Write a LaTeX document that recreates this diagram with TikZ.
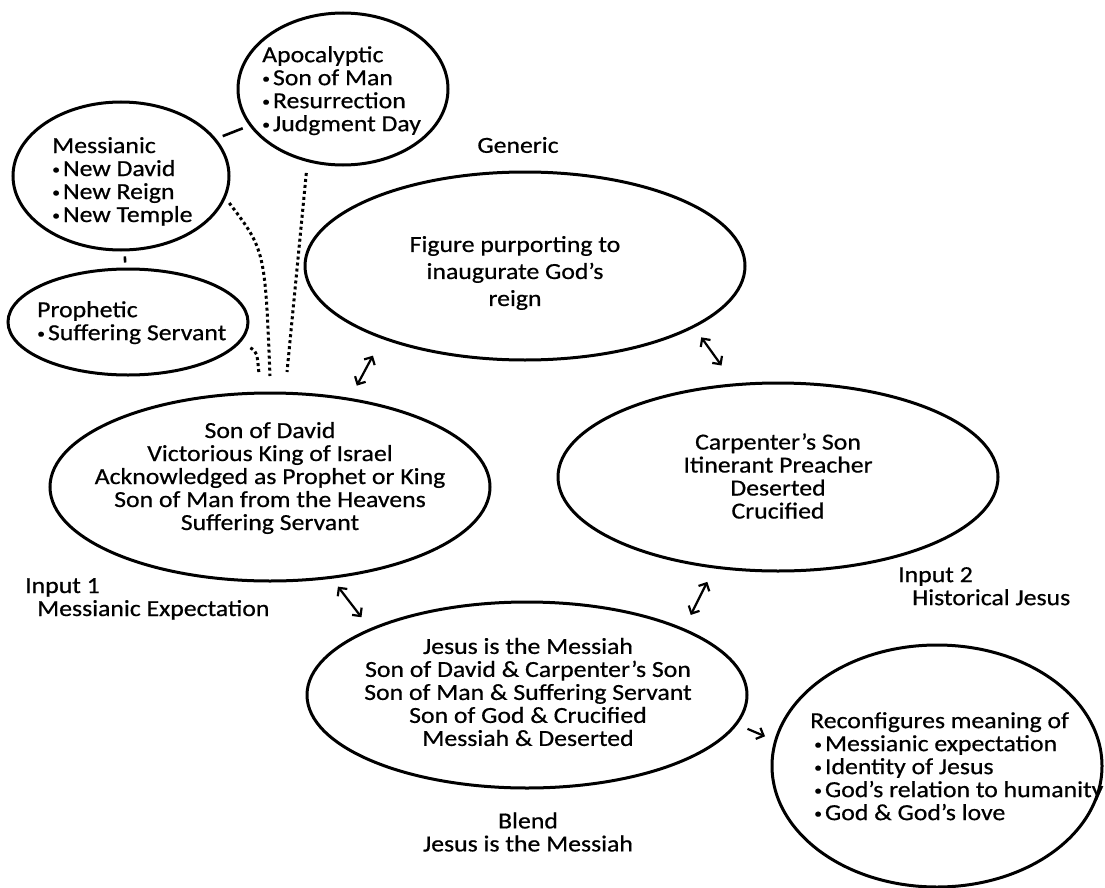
\documentclass[tikz,border=0pt]{standalone}
\usepackage{fontspec}
\setmainfont{Carlito}[FakeStretch=1.12,FakeBold=0.6]
\usetikzlibrary{shapes.geometric,arrows.meta}
\newcommand\bulletpt{\raisebox{2pt}{\fontsize{14}{14}\selectfont•}\hspace{3pt}}

\begin{document}
\begin{tikzpicture}[x=1pt,y=-1pt,
	oval/.style={draw,ellipse,line width=3pt,inner sep=0pt},
	txt/.style={inner sep=0pt,align=center,font=\fontsize{23}{23}\selectfont},
	ltxt/.style={txt,align=left,anchor=north west},
	dbl/.style={{Straight Barb[length=6pt,width=12pt]}-{Straight Barb[length=6pt,width=12pt]},line width=2.2pt},
	sgl/.style={-{Straight Barb[length=6pt,width=12pt]},line width=2.2pt},
	tie/.style={line width=2.6pt},
	dots/.style={line width=3pt,dash pattern=on 3pt off 3pt}]
	\useasboundingbox (0,0) rectangle (1105,888);
	\node[oval,minimum width=440pt,minimum height=188pt] (0) at (525,266) {};
	\node[oval,minimum width=440pt,minimum height=188pt] (1) at (270,487) {};
	\node[oval,minimum width=440pt,minimum height=188pt] (2) at (778,477) {};
	\node[oval,minimum width=440pt,minimum height=186pt] (3) at (527,695) {};
	\node[oval,minimum width=330pt,minimum height=242pt] (4) at (937,766) {};
	\node[oval,minimum width=216pt,minimum height=148pt] (5) at (121,176) {};
	\node[oval,minimum width=210pt,minimum height=152pt] (6) at (343,89) {};
	\node[oval,minimum width=240pt,minimum height=106pt] (7) at (128,322) {};
	\node[txt,font=\fontsize{23}{27}\selectfont] (t0) at (515,273) {Figure purporting to\\inaugurate God’s\\reign};
	\node[txt] (t1) at (270,478) {Son of David\\Victorious King of Israel\\Acknowledged as Prophet or King\\Son of Man from the Heavens\\Suffering Servant};
	\node[txt] (t2) at (778,476) {Carpenter’s Son\\Itinerant Preacher\\Deserted\\Crucified};
	\node[txt] (t3) at (528,692) {Jesus is the Messiah\\Son of David \& Carpenter’s Son\\Son of Man \& Suffering Servant\\Son of God \& Crucified\\Messiah \& Deserted};
	\node[ltxt] (t4) at (810,712) {Reconfigures meaning of\\\hspace*{4pt}\bulletpt Messianic expectation\\\hspace*{4pt}\bulletpt Identity of Jesus\\\hspace*{4pt}\bulletpt God’s relation to humanity\\\hspace*{4pt}\bulletpt God \& God’s love};
	\node[ltxt] (t5) at (52,137) {Messianic\\\bulletpt New David\\\bulletpt New Reign\\\bulletpt New Temple};
	\node[ltxt] (t6) at (262,46) {Apocalyptic\\\bulletpt Son of Man\\\bulletpt Resurrection\\\bulletpt Judgment Day};
	\node[ltxt] (t7) at (37,301) {Prophetic\\\bulletpt Suffering Servant};
	\node[txt] (l0) at (518,145) {Generic};
	\node[ltxt] (l1) at (25,578) {Input 1\\\hspace*{12pt}Messianic Expectation};
	\node[ltxt] (l2) at (898,567) {Input 2\\\hspace*{14pt}Historical Jesus};
	\node[txt] (l3) at (528,832) {Blend\\Jesus is the Messiah};
	\coordinate (d1) at (287,372);
	\coordinate (d2) at (270,376);
	\coordinate (d3) at (259,374);
	\draw[tie,shorten <=7pt,shorten >=7pt] (5) -- (6);
	\draw[tie,shorten <=5pt,shorten >=5pt] (5) -- (7);
	\draw[dots,shorten <=11pt] (6.244) -- (d1);
	\draw[dots,shorten <=6pt] (5.-12) .. controls (265,250) .. (d2);
	\draw[dots,shorten <=11pt] (7.-10) .. controls (257,352) .. (d3);
	\draw[dbl,shorten <=14pt,shorten >=19pt] (1.48) -- (0.207);
	\draw[dbl,shorten <=12pt,shorten >=22pt] (0.340) -- (2.115);
	\draw[dbl,shorten <=10pt,shorten >=14pt] (1.-56) -- (3.157);
	\draw[dbl,shorten <=15pt,shorten >=15pt] (2.235) -- (3.23);
	\draw[sgl,shorten <=11pt,shorten >=10pt] (3.-8) -- (4.171);
\end{tikzpicture}
\end{document}
